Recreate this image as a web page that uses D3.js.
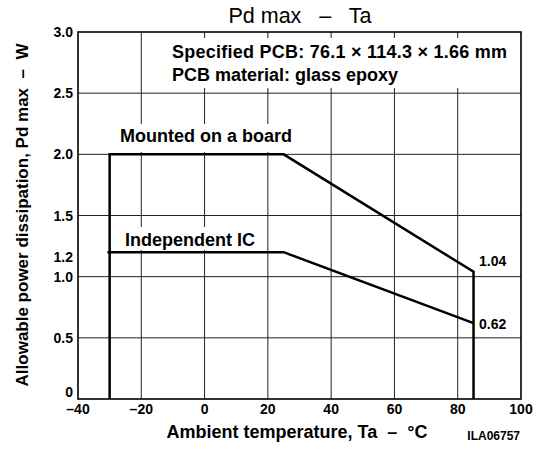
<!DOCTYPE html>
<html>
	<head>
		<title>Pd max - Ta</title>
		<script src="https://d3js.org/d3.v7.min.js"></script>
		<style>
			body {
				margin: 0;
				background-color: white;
				font-family: "Liberation Sans", Arial, sans-serif;
			}
			.grid line {
				stroke: #222;
				stroke-width: 1;
			}
			.tick-label {
				font-size: 14px;
				font-weight: bold;
			}
			.curve {
				fill: none;
				stroke: black;
				stroke-width: 2.5;
			}
		</style>
	</head>
	<body>
		<svg id="chart" width="538" height="449"></svg>
		<script>
			// data
			var xTicks = [-40, -20, 0, 20, 40, 60, 80, 100];
			var yTicks = [0, 0.5, 1.0, 1.2, 1.5, 2.0, 2.5, 3.0];
			var yGrid = [0.5, 1.0, 1.5, 2.0, 2.5];
			var xGrid = [-20, 0, 20, 40, 60, 80];
			var boardTa = [-30, -30, 25, 85, 85];
			var boardPd = [0, 2.0, 2.0, 1.04, 0];
			var icTa = [-30.7, 25, 85];
			var icPd = [1.2, 1.2, 0.62];
			var endLabels = ["1.04", "0.62"];
			var endValues = [1.04, 0.62];

			var svg = d3.select("#chart");

			var pLeft = 78, pRight = 521, pTop = 32, pBottom = 399;

			var xScale = d3.scaleLinear().domain([-40, 100]).range([pLeft, pRight]);
			var yScale = d3.scaleLinear().domain([0, 3]).range([pBottom, pTop]);

			// gridlines
			var grid = svg.append("g").attr("class", "grid");
			grid.selectAll(".vx").data(xGrid).enter().append("line")
			.attr("x1", function(d) { return xScale(d); })
			.attr("x2", function(d) { return xScale(d); })
			.attr("y1", pTop).attr("y2", pBottom);
			grid.selectAll(".hy").data(yGrid).enter().append("line")
			.attr("x1", pLeft).attr("x2", pRight)
			.attr("y1", function(d) { return yScale(d); })
			.attr("y2", function(d) { return yScale(d); });

			// white boxes behind the notes (gridlines break there)
			var boxes = [
				[168, 38, 344, 50],
				[116, 124, 180, 28],
				[120, 227, 140, 23]
			];
			svg.selectAll(".box").data(boxes).enter().append("rect")
			.attr("x", function(d) { return d[0]; })
			.attr("y", function(d) { return d[1]; })
			.attr("width", function(d) { return d[2]; })
			.attr("height", function(d) { return d[3]; })
			.attr("fill", "white");

			// frame
			svg.append("rect")
			.attr("x", pLeft).attr("y", pTop)
			.attr("width", pRight - pLeft).attr("height", pBottom - pTop)
			.attr("fill", "none").attr("stroke", "black").attr("stroke-width", 1.6);

			// curves
			var line = d3.line()
			.x(function(d) { return xScale(d[0]); })
			.y(function(d) { return yScale(d[1]); });
			svg.append("path").attr("class", "curve")
			.attr("d", line(d3.zip(boardTa, boardPd)));
			svg.append("path").attr("class", "curve")
			.attr("d", line(d3.zip(icTa, icPd)));

			// tick labels
			svg.selectAll(".xt").data(xTicks).enter().append("text")
			.attr("class", "tick-label")
			.attr("x", function(d) { return xScale(d); })
			.attr("y", 414)
			.attr("text-anchor", "middle")
			.text(function(d) { return d < 0 ? "\u2013" + Math.abs(d) : d; });
			svg.selectAll(".yt").data(yTicks).enter().append("text")
			.attr("class", "tick-label")
			.attr("x", 73)
			.attr("y", function(d) {
				if (d == 0) return yScale(d) - 2;
				return yScale(d) + 5 + (d == 1.2 ? 5 : 0);
			})
			.attr("text-anchor", "end")
			.text(function(d) { return d == 0 ? "0" : d.toFixed(1); });

			// end values
			svg.selectAll(".endv").data(endValues).enter().append("text")
			.attr("class", "tick-label")
			.attr("x", 479)
			.attr("y", function(d) { return yScale(d) - (d > 1 ? 6 : -6); })
			.text(function(d, i) { return endLabels[i]; });

			// title
			svg.append("text")
			.attr("x", 300).attr("y", 23)
			.attr("text-anchor", "middle")
			.style("font-size", "21.5px")
			.attr("xml:space", "preserve")
			.text("Pd max   \u2013   Ta");

			// notes
			var notes = svg.append("g").style("font-size", "18px").style("font-weight", "bold");
			notes.append("text").attr("x", 172).attr("y", 58)
			.attr("textLength", 335)
			.text("Specified PCB: 76.1 \u00d7 114.3 \u00d7 1.66 mm");
			notes.append("text").attr("x", 172).attr("y", 81)
			.text("PCB material: glass epoxy");
			notes.append("text").attr("x", 120).attr("y", 142)
			.text("Mounted on a board");
			notes.append("text").attr("x", 125).attr("y", 246)
			.text("Independent IC");

			// axis titles
			svg.append("text")
			.attr("x", 297).attr("y", 438)
			.attr("text-anchor", "middle")
			.style("font-size", "18px").style("font-weight", "bold")
			.attr("xml:space", "preserve")
			.text("Ambient temperature, Ta  \u2013  \u00b0C");
			svg.append("text")
			.attr("transform", "translate(28,215) rotate(-90)")
			.attr("text-anchor", "middle")
			.style("font-size", "17px").style("font-weight", "bold")
			.attr("xml:space", "preserve")
			.text("Allowable power dissipation, Pd max  \u2013  W");
			svg.append("text")
			.attr("x", 520).attr("y", 440)
			.attr("text-anchor", "end")
			.style("font-size", "12px").style("font-weight", "bold")
			.text("ILA06757");
		</script>
	</body>
</html>
